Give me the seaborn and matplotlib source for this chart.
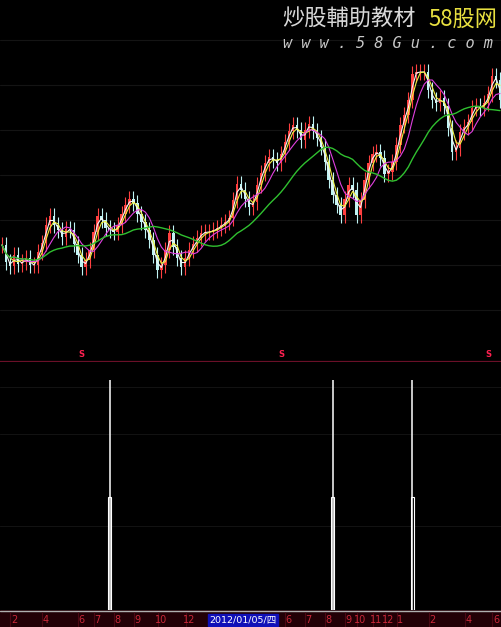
import numpy as np
import pandas as pd
import seaborn as sns
import matplotlib.pyplot as plt

# closing prices, one per bar
closes = [11.5, 9.8, 9.4, 10.5, 9.6, 9.8, 10.2, 9.5, 9.5, 10.8,
          11.7, 13.5, 14.4, 13.5, 13.0, 12.3, 13.1, 13.0, 11.6, 10.5,
          9.3, 10.0, 11.0, 12.8, 14.4, 14.0, 13.2, 13.0, 12.8, 13.5,
          14.6, 15.5, 16.1, 15.7, 14.6, 13.8, 13.0, 12.0, 10.5, 9.0,
          9.5, 11.0, 12.7, 11.3, 10.2, 9.3, 10.2, 11.0, 11.6, 12.2,
          12.7, 12.8, 12.8, 13.0, 13.2, 13.5, 13.8, 14.2, 16.0, 17.6,
          17.0, 16.1, 15.3, 15.8, 17.5, 18.7, 19.7, 20.3, 20.0, 19.7,
          20.6, 21.8, 22.9, 23.5, 23.0, 22.0, 23.0, 23.6, 22.9, 22.2,
          21.3, 19.8, 18.0, 16.5, 15.5, 14.5, 16.1, 17.5, 17.0, 14.5,
          16.0, 18.0, 19.7, 20.6, 20.8, 20.2, 18.6, 18.8, 19.8, 21.5,
          23.5, 24.5, 26.0, 28.6, 28.8, 28.8, 28.8, 27.0, 26.0, 25.7,
          26.2, 25.4, 23.2, 20.8, 21.2, 22.8, 23.3, 23.8, 25.2, 25.4,
          25.2, 25.7, 26.6, 28.4, 28.0, 26.0]

ma_windows = [2, 3, 6, 18]
ma_colors = ['#f4f4f4', '#f0f040', '#e040e0', '#30c030']

signal_idx = [27, 83, 103]
signal_top = [1.0, 1.0, 1.0]
signal_low = [0.49, 0.49, 0.49]

s_mark_idx = [20, 70, 122]

tick_idx = [3, 11, 20, 24, 29, 34, 40, 47, 72, 77, 82, 87, 90, 94, 97, 100, 108, 117, 124]
tick_lab = ['2', '4', '6', '7', '8', '9', '10', '12', '6', '7', '8', '9', '10',
            '11', '12', '1', '2', '4', '6']
cursor_idx = 60.5
cursor_lab = '2012/01/05/四'

sns.set_theme(style='dark', rc={'axes.facecolor': 'black', 'figure.facecolor': 'black'})
plt.rcParams['font.family'] = ['DejaVu Sans', 'Noto Sans CJK SC']

W, H = 502, 627
fig = plt.figure(figsize=(W / 100, H / 100), dpi=100)
ax = fig.add_axes([0, 265 / H, 1, 362 / H])
ax_sig = fig.add_axes([0, 17 / H, 1, 248 / H])
ax_band = fig.add_axes([0, 0, 1, 17 / H])

df = pd.DataFrame({'close': closes})
df['i'] = np.arange(len(df))
df['open'] = df['close'].shift(1).fillna(df['close'])
up = df['close'] >= df['open']
hi = np.maximum(df['open'], df['close']) + 0.8
lo = np.minimum(df['open'], df['close']) - 0.8

for a in (ax, ax_sig):
    a.set_facecolor('black')
    a.set_xlim(-0.5, len(df) - 0.5)
    for s in a.spines.values():
        s.set_visible(False)
    a.set_xticks([])
    a.set_yticks([])

# faint grid
for g in [40, 85, 130, 175, 220, 265, 310]:
    ax.axhline((360 - g) / 10, color='#141414', lw=0.8, zorder=0)
for g in [0.34, 0.71, 0.90]:
    ax_sig.axhline(g * 1.08, color='#121212', lw=0.8, zorder=0)

# candles
ax.vlines(df['i'][up], lo[up], hi[up], color='#ff4040', lw=0.8)
ax.vlines(df['i'][~up], lo[~up], hi[~up], color='#c0f4f4', lw=0.8)
ax.bar(df['i'][up], (df['close'] - df['open'])[up], bottom=df['open'][up],
       width=0.6, color='#ff4040', edgecolor='none')
ax.bar(df['i'][~up], (df['close'] - df['open'])[~up], bottom=df['open'][~up],
       width=0.6, color='#c0f4f4', edgecolor='none')

for w, c in zip(ma_windows, ma_colors):
    df['ma'] = df['close'].rolling(w, min_periods=1).mean()
    sns.lineplot(data=df, x='i', y='ma', ax=ax, color=c, lw=0.8 if w < 10 else 1.0)

ax.set_ylim(-0.2, 36.0)
ax.set_xlabel('')
ax.set_ylabel('')
ax.axhline(-0.15, color='#6a1028', lw=1.6)

for i in s_mark_idx:
    ax.text(i, 0.55, 'S', color='#ff2050', fontsize=6, fontweight='bold',
            ha='center', va='center')

# signal panel
ax_sig.set_ylim(0, 1.08)
ax_sig.vlines(signal_idx, 0, signal_top, color='white', lw=1.1)
ax_sig.bar(signal_idx, signal_low, width=0.75, facecolor='black',
           edgecolor='white', lw=0.8)

# date band
ax_band.set_facecolor('#220006')
ax_band.set_xlim(-0.5, len(df) - 0.5)
ax_band.set_ylim(0, 1)
ax_band.set_xticks([])
ax_band.set_yticks([])
for s in ax_band.spines.values():
    s.set_visible(False)
ax_band.axhline(0.97, color='#b0b0b0', lw=1.0)
for i, t in zip(tick_idx, tick_lab):
    ax_band.vlines(i - 0.9, 0, 0.9, color='#4a0814', lw=0.8)
    ax_band.text(i, 0.42, t, color='#c82838', fontsize=7, ha='center', va='center')
ax_band.text(cursor_idx, 0.42, cursor_lab, color='white', fontsize=6.8,
             ha='center', va='center',
             bbox=dict(facecolor='#1010b8', edgecolor='#1010b8', pad=1.2))

# watermark
fig.text(282 / W, 1 - 19 / H, '炒股輔助教材', color='#d8d8d8', fontsize=16,
         family=['Noto Sans CJK SC'], ha='left', va='center')
fig.text(497 / W, 1 - 19 / H, '58股网', color='#e8e040', fontsize=16,
         family=['Noto Sans CJK SC'], ha='right', va='center')
fig.text(388 / W, 1 - 44 / H, 'w w w . 5 8 G u . c o m', color='#c8c8c8',
         fontsize=11, family=['DejaVu Sans Mono'], style='italic',
         ha='center', va='center')

fig.savefig('out.png', dpi=100, facecolor='black')
